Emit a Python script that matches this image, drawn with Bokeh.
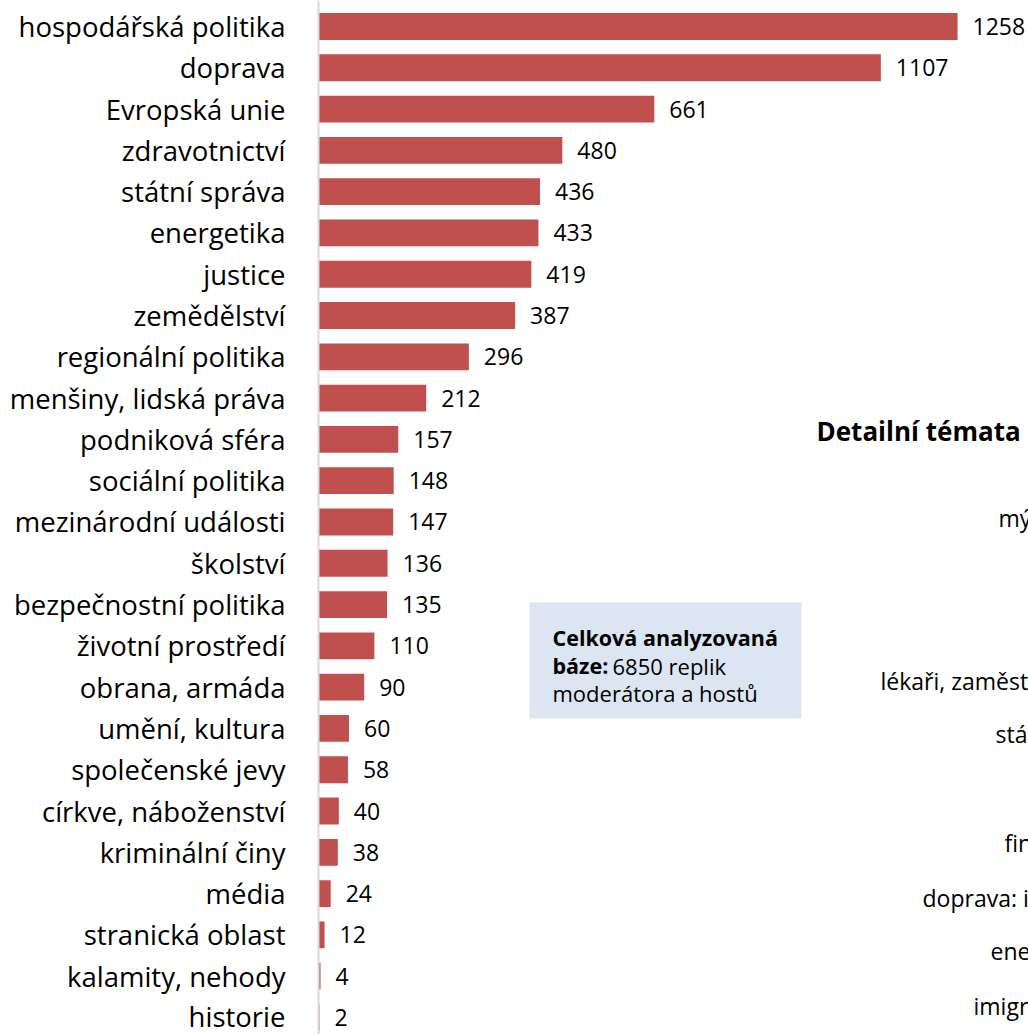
from bokeh.plotting import figure
from bokeh.models import Range1d, FixedTicker, BoxAnnotation, ColumnDataSource
from bokeh.core.properties import value
from bokeh.embed import file_html
from bokeh.resources import INLINE

# ---- data ----
categories = ["hospodářská politika", "doprava", "Evropská unie", "zdravotnictví",
              "státní správa", "energetika", "justice", "zemědělství",
              "regionální politika", "menšiny, lidská práva", "podniková sféra",
              "sociální politika", "mezinárodní události", "školství",
              "bezpečnostní politika", "životní prostředí", "obrana, armáda",
              "umění, kultura", "společenské jevy", "církve, náboženství",
              "kriminální činy", "média", "stranická oblast", "kalamity, nehody",
              "historie"]
counts = [1258, 1107, 661, 480, 436, 433, 419, 387, 296, 212, 157, 148, 147,
          136, 135, 110, 90, 60, 58, 40, 38, 24, 12, 4, 2]

box_line1 = "Celková analyzovaná"
box_line2_bold = "báze:"
box_line2_rest = "6850 replik"
box_line3 = "moderátora a hostů"

detail_title = "Detailní témata"
detail_labels = ["mý", "lékaři, zaměst", "stá", "fin", "doprava: i", "ene", "imigr"]

# ---- layout ----
FONT = "Open Sans"
W, H = 1028, 1034
LEFT = 318
PXU = 0.508          # pixels per unit on x
BAND = 41.29         # pixels per category
n = len(categories)
x_end = (W - LEFT) / PXU
y_end = (n - 1) + 26 / BAND
y_start = y_end - H / BAND

def px_x(px):
    return (px - LEFT) / PXU

def px_y(py):
    return y_end - py / BAND

p = figure(width=W, height=H, output_backend="svg", toolbar_location=None,
           x_range=Range1d(0, x_end), y_range=Range1d(y_start, y_end),
           min_border_left=LEFT, min_border_right=0, min_border_top=0,
           min_border_bottom=0, tools="")
p.outline_line_color = None
p.xgrid.visible = False
p.ygrid.visible = False
p.xaxis.visible = False
p.background_fill_color = "white"
p.border_fill_color = "white"

pos = [n - 1 - i for i in range(n)]
src = ColumnDataSource(dict(y=pos, v=counts, lab=[str(c) for c in counts], cat=categories))

p.hbar(y="y", left=0, right="v", height=0.65, source=src,
       fill_color="#c0504d", line_color=None)
p.text(x="v", y="y", text="lab", source=src, x_offset=15,
       text_baseline="middle", text_align="left",
       text_font=value(FONT), text_font_size="23px", text_color="black")

ax = p.yaxis[0]
ax.ticker = FixedTicker(ticks=pos)
ax.major_label_overrides = {pp: c for pp, c in zip(pos, categories)}
ax.major_tick_line_color = None
ax.minor_tick_line_color = None
ax.axis_line_color = "#d9d9d9"
ax.axis_line_width = 2
ax.major_label_standoff = 27
ax.major_label_text_font = FONT
ax.major_label_text_font_size = "27.5px"
ax.major_label_text_color = "black"

# text box
p.add_layout(BoxAnnotation(left=px_x(529), right=px_x(801), top=px_y(602),
                           bottom=px_y(718), fill_color="#dce6f2", fill_alpha=1,
                           line_color=None, level="underlay"))
p.text(x=[px_x(552)], y=[px_y(637)], text=[box_line1], text_font=value(FONT),
       text_font_style="bold", text_font_size="21.5px", text_baseline="alphabetic")
p.text(x=[px_x(552)], y=[px_y(665)], text=[box_line2_bold], text_font=value(FONT),
       text_font_style="bold", text_font_size="21.5px", text_baseline="alphabetic")
p.text(x=[px_x(612)], y=[px_y(665)], text=[box_line2_rest], text_font=value(FONT),
       text_font_size="22px", text_baseline="alphabetic")
p.text(x=[px_x(552)], y=[px_y(692)], text=[box_line3], text_font=value(FONT),
       text_font_size="22px", text_baseline="alphabetic")

# partially visible second chart
p.text(x=[px_x(816)], y=[px_y(430)], text=[detail_title], text_font=value(FONT),
       text_font_style="bold", text_font_size="26px", text_baseline="middle")
dx = [998, 880, 995, 1004, 922, 990, 973]
dy = [517, 680, 733, 842, 897, 950, 1005]
p.text(x=[px_x(v) for v in dx], y=[px_y(v) for v in dy], text=detail_labels,
       text_font=value(FONT), text_font_size="23px", text_baseline="middle")

open("out.html", "w").write(file_html(p, INLINE))
